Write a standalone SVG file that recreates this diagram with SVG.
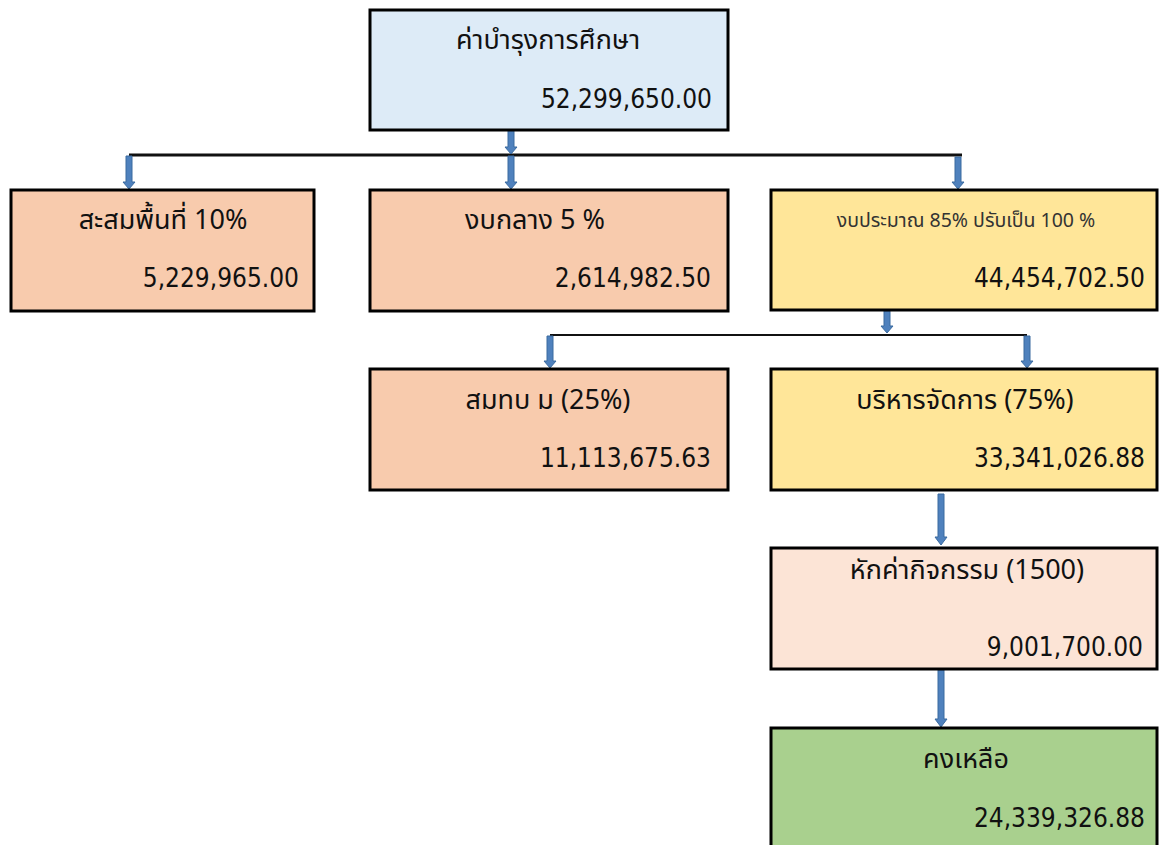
<svg xmlns="http://www.w3.org/2000/svg" width="1159" height="845" viewBox="0 0 1159 845">
<style>
.box{stroke:#000;stroke-width:3}
.blue{fill:#DDEBF7}.orange{fill:#F8CBAD}.yellow{fill:#FFE699}.pink{fill:#FCE4D6}.green{fill:#A9D08E}
.t{font-family:"Tahoma","Noto Sans Thai","DejaVu Sans Condensed","DejaVu Sans",sans-serif;font-size:27px;fill:#111;text-anchor:middle}
.ts{font-family:"Tahoma","Noto Sans Thai","DejaVu Sans Condensed","DejaVu Sans",sans-serif;font-size:19.5px;fill:#333;text-anchor:middle}
.v{font-family:"DejaVu Sans Condensed","DejaVu Sans",sans-serif;font-size:26px;fill:#111;text-anchor:end}
.arr{fill:#4F81BD;stroke:#3A6A9F;stroke-width:1}
.ln{fill:none;stroke:#111}
</style>
<rect width="1159" height="845" fill="#fff"/>
<g id="connectors">
<path class="ln" d="M129,155 H962" stroke-width="3"/>
<path class="ln" d="M550,335 H1027" stroke-width="2"/>
<polygon class="arr" points="508,130 514,130 514,147 517,147 511,154 505,147 508,147"/>
<polygon class="arr" points="508,156 514,156 514,182 517,182 511,189 505,182 508,182"/>
<polygon class="arr" points="126,156 132,156 132,182 135,182 129,189 123,182 126,182"/>
<polygon class="arr" points="955,157 961,157 961,182 964,182 958,189 952,182 955,182"/>
<polygon class="arr" points="884,311 890,311 890,326 893,326 887,333 881,326 884,326"/>
<polygon class="arr" points="547,336 553,336 553,361 556,361 550,368 544,361 547,361"/>
<polygon class="arr" points="1024,336 1030,336 1030,361 1033,361 1027,368 1021,361 1024,361"/>
<polygon class="arr" points="938,494 944,494 944,537 947,537 941,545 935,537 938,537"/>
<polygon class="arr" points="938,670 944,670 944,719 947,719 941,727 935,719 938,719"/>
</g>
<g id="n-top">
<rect class="box blue" x="370" y="10" width="358" height="120"/>
<text class="t" x="548" y="49">ค่าบำรุงการศึกษา</text>
<text class="v" x="712" y="108">52,299,650.00</text>
</g>
<g id="n-area">
<rect class="box orange" x="11" y="190" width="303" height="121"/>
<text class="t" x="163" y="229">สะสมพื้นที่ 10%</text>
<text class="v" x="299" y="287">5,229,965.00</text>
</g>
<g id="n-central">
<rect class="box orange" x="370" y="190" width="358" height="121"/>
<text class="t" x="535" y="229">งบกลาง 5 %</text>
<text class="v" x="711" y="287">2,614,982.50</text>
</g>
<g id="n-budget">
<rect class="box yellow" x="771" y="190" width="386" height="120"/>
<text class="ts" x="966" y="227">งบประมาณ 85% ปรับเป็น 100 %</text>
<text class="v" x="1145" y="287">44,454,702.50</text>
</g>
<g id="n-contrib">
<rect class="box orange" x="370" y="369" width="358" height="121"/>
<text class="t" x="548" y="409">สมทบ ม (25%)</text>
<text class="v" x="711" y="467">11,113,675.63</text>
</g>
<g id="n-admin">
<rect class="box yellow" x="771" y="369" width="386" height="121"/>
<text class="t" x="965" y="409">บริหารจัดการ (75%)</text>
<text class="v" x="1145" y="467">33,341,026.88</text>
</g>
<g id="n-activity">
<rect class="box pink" x="771" y="548" width="386" height="121"/>
<text class="t" x="967" y="579">หักค่ากิจกรรม (1500)</text>
<text class="v" x="1143" y="656">9,001,700.00</text>
</g>
<g id="n-remain">
<rect class="box green" x="771" y="728" width="386" height="130"/>
<text class="t" x="966" y="768">คงเหลือ</text>
<text class="v" x="1145" y="827">24,339,326.88</text>
</g>
</svg>
